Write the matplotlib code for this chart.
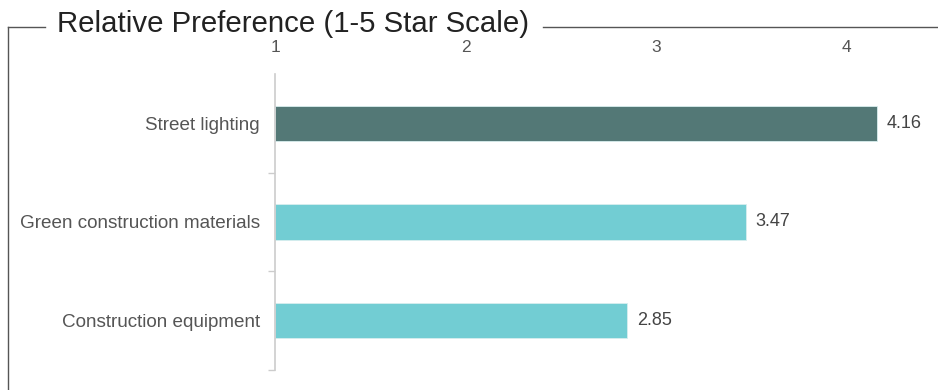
import matplotlib.pyplot as plt
from matplotlib.lines import Line2D

categories = ['Street lighting', 'Green construction materials', 'Construction equipment']
scores = [4.16, 3.47, 2.85]
bar_colors = ['#537876', '#72cdd3', '#72cdd3']
x_ticks = [1, 2, 3, 4]

plt.rcParams['font.family'] = ['Liberation Sans', 'DejaVu Sans']

dpi = 100
fig = plt.figure(figsize=(938 / dpi, 390 / dpi), dpi=dpi)

# axes box in pixels: x 275..938, y 74..370
ax = fig.add_axes([275 / 938, 1 - 370 / 390, (938 - 275) / 938, (370 - 74) / 390])

ypos = list(range(len(categories)))
ax.barh(ypos, [s - 1 for s in scores], left=1, height=0.36, color=bar_colors,
        edgecolor='#d8eeee', linewidth=0.6)
for y, s in zip(ypos, scores):
    ax.text(s + 0.05, y, f'{s:.2f}', va='center', ha='left', fontsize=13, color='#444444')

ax.set_xlim(1, 4.48)
ax.set_ylim(len(categories) - 0.5, -0.5)
ax.set_xticks(x_ticks)
ax.set_xticklabels([str(t) for t in x_ticks])
ax.xaxis.tick_top()
ax.tick_params(axis='x', length=0, pad=14, labelsize=12.5, labelcolor='#555555')

ax.set_yticks(ypos)
ax.set_yticklabels(categories)
ax.set_yticks([i + 0.5 for i in ypos], minor=True)
ax.tick_params(axis='y', which='major', length=0, pad=11, labelsize=13.6, labelcolor='#555555')
ax.tick_params(axis='y', which='minor', length=5, color='#cccccc', width=1)

for side in ['top', 'right', 'bottom']:
    ax.spines[side].set_visible(False)
ax.spines['left'].set_color('#cccccc')
ax.spines['left'].set_linewidth(1.2)

# outer frame with title breaking the top line
fy = 1 - 27 / 390
fig.add_artist(Line2D([8 / 938, 8 / 938], [0, fy], color='#555555', lw=1, transform=fig.transFigure))
fig.add_artist(Line2D([8 / 938, 45 / 938], [fy, fy], color='#555555', lw=1, transform=fig.transFigure))
fig.add_artist(Line2D([543 / 938, 1], [fy, fy], color='#555555', lw=1, transform=fig.transFigure))
fig.text(57 / 938, 1 - 32 / 390, 'Relative Preference (1-5 Star Scale)', fontsize=21.2,
         color='#222222', va='baseline', ha='left')

fig.savefig('out.png', dpi=dpi)
